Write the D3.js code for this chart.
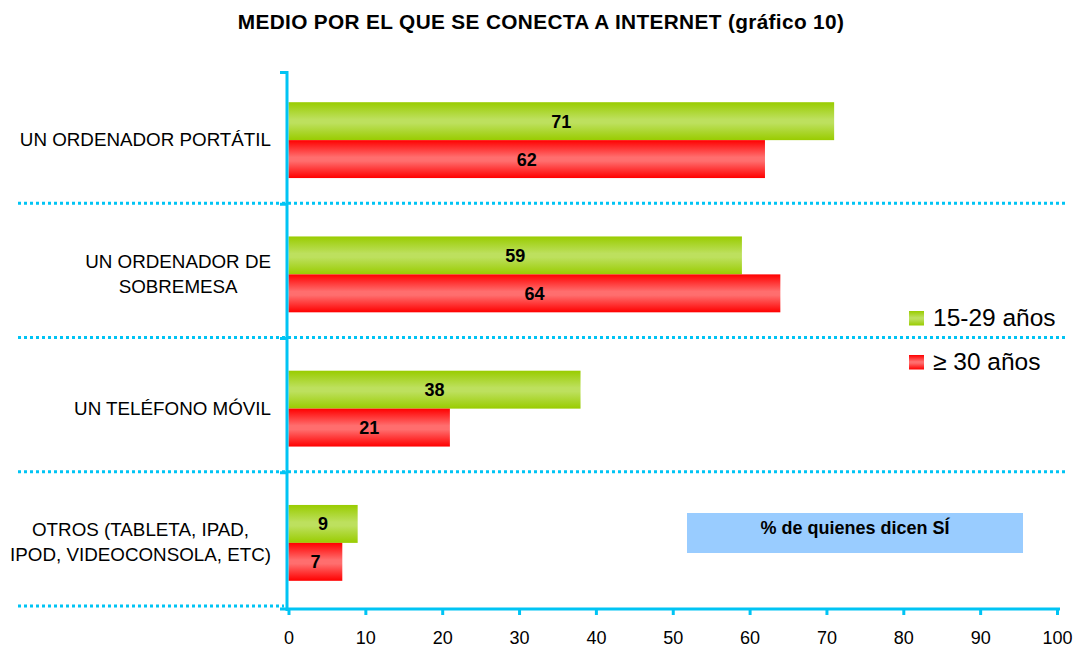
<!DOCTYPE html>
<html>
<head>
<meta charset="utf-8">
<script src="https://cdn.jsdelivr.net/npm/d3@7/dist/d3.min.js"></script>
<style>
  html, body { margin: 0; padding: 0; background: #fff; }
  svg { display: block; font-family: Arial, "Liberation Sans", sans-serif; }
</style>
</head>
<body>
<svg id="chart" width="1076" height="647"></svg>
<script>
// Categories (each label split into its lines)
const categories = [
  ["UN ORDENADOR PORTÁTIL"],
  ["UN ORDENADOR DE", "SOBREMESA"],
  ["UN TELÉFONO MÓVIL"],
  ["OTROS (TABLETA, IPAD,", "IPOD, VIDEOCONSOLA, ETC)"]
];
const seriesNames = ["15-29 años", "≥ 30 años"];
const young = [71, 59, 38, 9];
const older = [62, 64, 21, 7];
const xTicks = [0, 10, 20, 30, 40, 50, 60, 70, 80, 90, 100];

const title = "MEDIO POR EL QUE SE CONECTA A INTERNET (gráfico 10)";
const note = "% de quienes dicen SÍ";

const axisColor = "#00c4f4";
const svg = d3.select("#chart");

// gradients: darker at top and bottom edge, lighter in the middle
const defs = svg.append("defs");
function barGradient(id, edge, mid) {
  const g = defs.append("linearGradient").attr("id", id)
    .attr("x1", 0).attr("y1", 0).attr("x2", 0).attr("y2", 1);
  g.append("stop").attr("offset", "0%").attr("stop-color", edge);
  g.append("stop").attr("offset", "45%").attr("stop-color", mid);
  g.append("stop").attr("offset", "55%").attr("stop-color", mid);
  g.append("stop").attr("offset", "100%").attr("stop-color", edge);
}
barGradient("gGreen", "#99cc00", "#bde05e");
barGradient("gRed", "#ff0000", "#ff6e6e");
const fills = ["url(#gGreen)", "url(#gRed)"];

const x = d3.scaleLinear().domain([0, 100]).range([288.5, 1057]);
const y = d3.scaleBand().domain(d3.range(categories.length)).range([72, 609]);
const ySub = d3.scaleBand().domain([0, 1])
  .range([y.bandwidth() * 0.225, y.bandwidth() * 0.79]);

// title
svg.append("text")
  .attr("x", 541).attr("y", 29)
  .attr("text-anchor", "middle")
  .attr("font-weight", "bold").attr("font-size", 20.8)
  .attr("letter-spacing", 0.35)
  .attr("fill", "#000")
  .text(title);

// dotted separators between categories
const seps = d3.range(1, categories.length + 1);
svg.append("g").selectAll("line").data(seps).join("line")
  .attr("x1", 18)
  .attr("x2", i => i === categories.length ? 284 : 1066)
  .attr("y1", i => y(i - 1) + y.bandwidth() - 3)
  .attr("y2", i => y(i - 1) + y.bandwidth() - 3)
  .attr("stroke", axisColor).attr("stroke-width", 3)
  .attr("stroke-dasharray", "3,3");

// bars
const rows = categories.map((c, i) => ({ i, vals: [young[i], older[i]] }));
const groups = svg.append("g").selectAll("g").data(rows).join("g")
  .attr("transform", d => `translate(0,${y(d.i)})`);

groups.selectAll("rect").data(d => d.vals.map((v, s) => ({ v, s }))).join("rect")
  .attr("x", x(0))
  .attr("y", d => ySub(d.s))
  .attr("width", d => x(d.v) - x(0))
  .attr("height", ySub.bandwidth())
  .attr("fill", d => fills[d.s]);

groups.selectAll("text.val").data(d => d.vals.map((v, s) => ({ v, s }))).join("text")
  .attr("class", "val")
  .attr("x", d => (x(0) + x(d.v)) / 2)
  .attr("y", d => ySub(d.s) + ySub.bandwidth() / 2 + 6.5)
  .attr("text-anchor", "middle")
  .attr("font-weight", "bold").attr("font-size", 18)
  .attr("fill", "#000")
  .text(d => d.v);

// category labels: lines centred within a block right-aligned at x=270
categories.forEach((lines, i) => {
  const g = svg.append("g");
  const cy = y(i) + y.bandwidth() / 2;
  const lh = 25;
  const t = g.selectAll("text").data(lines).join("text")
    .attr("y", (d, k) => cy + (k - (lines.length - 1) / 2) * lh + 7)
    .attr("font-size", 18.8).attr("fill", "#000")
    .attr("text-anchor", "middle")
    .text(d => d);
  let maxW = 0;
  t.each(function () { maxW = Math.max(maxW, this.getComputedTextLength()); });
  t.attr("x", 271 - maxW / 2);
});

// y axis line with small ticks at category boundaries
svg.append("line")
  .attr("x1", 287).attr("x2", 287).attr("y1", 71).attr("y2", 611)
  .attr("stroke", axisColor).attr("stroke-width", 3);
svg.append("g").selectAll("line").data(d3.range(0, categories.length)).join("line")
  .attr("x1", 280).attr("x2", 287)
  .attr("y1", i => i === 0 ? 72.5 : y(i) - 2)
  .attr("y2", i => i === 0 ? 72.5 : y(i) - 2)
  .attr("stroke", axisColor).attr("stroke-width", 3);

// x axis
const xAxis = svg.append("g").attr("transform", "translate(0,609)")
  .call(d3.axisBottom(x).tickValues(xTicks).tickSize(6).tickFormat(d3.format("d")));
xAxis.select(".domain").remove();
xAxis.selectAll(".tick line").attr("stroke", axisColor).attr("stroke-width", 3);
xAxis.selectAll(".tick text")
  .attr("y", 35).attr("dy", null)
  .attr("font-size", 18).attr("fill", "#000")
  .attr("font-family", "Arial, 'Liberation Sans', sans-serif");
svg.append("line")
  .attr("x1", 280).attr("x2", 1060).attr("y1", 609).attr("y2", 609)
  .attr("stroke", axisColor).attr("stroke-width", 3);

// legend
const legend = svg.append("g");
seriesNames.forEach((name, s) => {
  const ly = 311 + s * 44;
  legend.append("rect")
    .attr("x", 909).attr("y", ly).attr("width", 15).attr("height", 14.5)
    .attr("fill", fills[s]);
  legend.append("text")
    .attr("x", 933).attr("y", ly + 15)
    .attr("font-size", 24.5).attr("fill", "#000")
    .text(name);
});

// note box
svg.append("rect")
  .attr("x", 687).attr("y", 513).attr("width", 336).attr("height", 40)
  .attr("fill", "#99ccff");
svg.append("text")
  .attr("x", 855).attr("y", 534)
  .attr("text-anchor", "middle")
  .attr("font-weight", "bold").attr("font-size", 18)
  .attr("fill", "#000")
  .text(note);
</script>
</body>
</html>
